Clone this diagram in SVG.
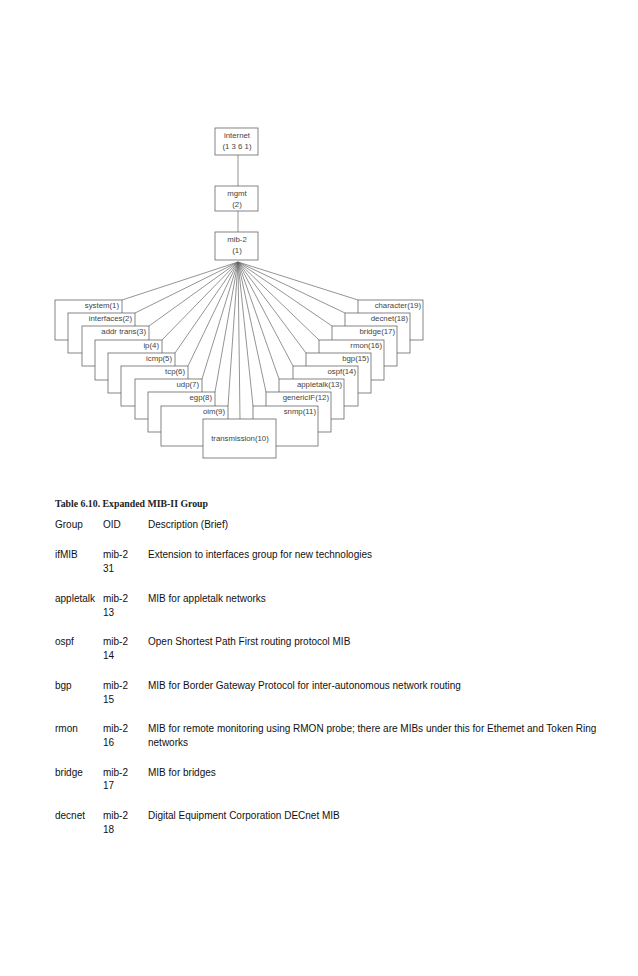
<svg xmlns="http://www.w3.org/2000/svg" width="638" height="976" viewBox="0 0 638 976">
<style>
.bx{fill:#fff;stroke:#666;stroke-width:0.8}
.ln{stroke:#666;stroke-width:0.7;fill:none}
.t{font-family:"Liberation Sans",Arial,sans-serif;font-size:7.8px;fill:#444}
.tm{text-anchor:middle}
.te{text-anchor:end}
.tab{font-family:"Liberation Sans",Arial,sans-serif;font-size:10px;fill:#111}
.ttl{font-family:"Liberation Serif","Times New Roman",serif;font-size:9.8px;font-weight:bold;fill:#222}
</style>
<rect width="638" height="976" fill="#fff"/>
<g id="connectors">
<line class="ln" x1="238" y1="155" x2="238" y2="186"/>
<line class="ln" x1="238" y1="211" x2="238" y2="232"/>
<line class="ln" x1="238" y1="262" x2="122" y2="300"/>
<line class="ln" x1="238" y1="262" x2="135" y2="313"/>
<line class="ln" x1="238" y1="262" x2="149" y2="326"/>
<line class="ln" x1="238" y1="262" x2="162" y2="340"/>
<line class="ln" x1="238" y1="262" x2="175" y2="353"/>
<line class="ln" x1="238" y1="262" x2="188" y2="366"/>
<line class="ln" x1="238" y1="262" x2="202" y2="379"/>
<line class="ln" x1="238" y1="262" x2="215" y2="392"/>
<line class="ln" x1="238" y1="262" x2="228" y2="406"/>
<line class="ln" x1="238" y1="262" x2="240" y2="419"/>
<line class="ln" x1="238" y1="262" x2="253" y2="406"/>
<line class="ln" x1="238" y1="262" x2="266" y2="392"/>
<line class="ln" x1="238" y1="262" x2="279" y2="379"/>
<line class="ln" x1="238" y1="262" x2="293" y2="366"/>
<line class="ln" x1="238" y1="262" x2="306" y2="353"/>
<line class="ln" x1="238" y1="262" x2="319" y2="340"/>
<line class="ln" x1="238" y1="262" x2="332" y2="326"/>
<line class="ln" x1="238" y1="262" x2="345" y2="313"/>
<line class="ln" x1="238" y1="262" x2="358" y2="300"/>
</g>
<g id="internet"><rect class="bx" x="215" y="128" width="43" height="27"/><text class="t tm" x="237" y="138">internet</text><text class="t tm" x="237" y="149">(1 3 6 1)</text></g>
<g id="mgmt"><rect class="bx" x="215" y="186" width="43" height="25"/><text class="t tm" x="237" y="196">mgmt</text><text class="t tm" x="237" y="207">(2)</text></g>
<g id="mib2"><rect class="bx" x="215" y="232" width="43" height="28"/><text class="t tm" x="237" y="242">mib-2</text><text class="t tm" x="237" y="253">(1)</text></g>
<g id="system"><rect class="bx" x="55" y="300" width="67" height="40"/><text class="t te" x="119" y="308">system(1)</text></g>
<g id="interfaces"><rect class="bx" x="68" y="313" width="67" height="40"/><text class="t te" x="132" y="321">interfaces(2)</text></g>
<g id="addrtrans"><rect class="bx" x="82" y="326" width="67" height="40"/><text class="t te" x="146" y="334">addr trans(3)</text></g>
<g id="ip"><rect class="bx" x="95" y="340" width="67" height="40"/><text class="t te" x="159" y="348">ip(4)</text></g>
<g id="icmp"><rect class="bx" x="108" y="353" width="67" height="40"/><text class="t te" x="172" y="361">icmp(5)</text></g>
<g id="tcp"><rect class="bx" x="121" y="366" width="67" height="40"/><text class="t te" x="185" y="374">tcp(6)</text></g>
<g id="udp"><rect class="bx" x="135" y="379" width="67" height="40"/><text class="t te" x="199" y="387">udp(7)</text></g>
<g id="egp"><rect class="bx" x="148" y="392" width="67" height="40"/><text class="t te" x="212" y="400">egp(8)</text></g>
<g id="oim"><rect class="bx" x="161" y="406" width="67" height="40"/><text class="t te" x="225" y="414">oim(9)</text></g>
<g id="character"><rect class="bx" x="358" y="300" width="65" height="40"/><text class="t te" x="421" y="308">character(19)</text></g>
<g id="decnet"><rect class="bx" x="345" y="313" width="65" height="40"/><text class="t te" x="408" y="321">decnet(18)</text></g>
<g id="bridge"><rect class="bx" x="332" y="326" width="65" height="40"/><text class="t te" x="395" y="334">bridge(17)</text></g>
<g id="rmon"><rect class="bx" x="319" y="340" width="65" height="40"/><text class="t te" x="382" y="348">rmon(16)</text></g>
<g id="bgp"><rect class="bx" x="306" y="353" width="65" height="40"/><text class="t te" x="369" y="361">bgp(15)</text></g>
<g id="ospf"><rect class="bx" x="293" y="366" width="65" height="40"/><text class="t te" x="356" y="374">ospf(14)</text></g>
<g id="appletalk"><rect class="bx" x="279" y="379" width="65" height="40"/><text class="t te" x="342" y="387">appletalk(13)</text></g>
<g id="genericIF"><rect class="bx" x="266" y="392" width="65" height="40"/><text class="t te" x="329" y="400">genericIF(12)</text></g>
<g id="snmp"><rect class="bx" x="253" y="406" width="65" height="40"/><text class="t te" x="316" y="414">snmp(11)</text></g>
<g id="transmission"><rect class="bx" x="203" y="419" width="73" height="39"/><text class="t tm" x="240" y="441">transmission(10)</text></g>
<g id="table">
<text class="ttl" x="55" y="507">Table 6.10. Expanded MIB-II Group</text>
<text class="tab" x="55" y="528">Group</text><text class="tab" x="103" y="528">OID</text><text class="tab" x="148" y="528">Description (Brief)</text>
<text class="tab" x="55" y="558">ifMIB</text><text class="tab" x="103" y="558">mib-2</text><text class="tab" x="103" y="572">31</text><text class="tab" x="148" y="558">Extension to interfaces group for new technologies</text>
<text class="tab" x="55" y="602">appletalk</text><text class="tab" x="103" y="602">mib-2</text><text class="tab" x="103" y="616">13</text><text class="tab" x="148" y="602">MIB for appletalk networks</text>
<text class="tab" x="55" y="645">ospf</text><text class="tab" x="103" y="645">mib-2</text><text class="tab" x="103" y="659">14</text><text class="tab" x="148" y="645">Open Shortest Path First routing protocol MIB</text>
<text class="tab" x="55" y="689">bgp</text><text class="tab" x="103" y="689">mib-2</text><text class="tab" x="103" y="703">15</text><text class="tab" x="148" y="689">MIB for Border Gateway Protocol for inter-autonomous network routing</text>
<text class="tab" x="55" y="732">rmon</text><text class="tab" x="103" y="732">mib-2</text><text class="tab" x="103" y="746">16</text><text class="tab" x="148" y="732">MIB for remote monitoring using RMON probe; there are MIBs under this for Ethemet and Token Ring</text><text class="tab" x="148" y="746">networks</text>
<text class="tab" x="55" y="776">bridge</text><text class="tab" x="103" y="776">mib-2</text><text class="tab" x="103" y="789">17</text><text class="tab" x="148" y="776">MIB for bridges</text>
<text class="tab" x="55" y="819">decnet</text><text class="tab" x="103" y="819">mib-2</text><text class="tab" x="103" y="833">18</text><text class="tab" x="148" y="819">Digital Equipment Corporation DECnet MIB</text>
</g>
</svg>
